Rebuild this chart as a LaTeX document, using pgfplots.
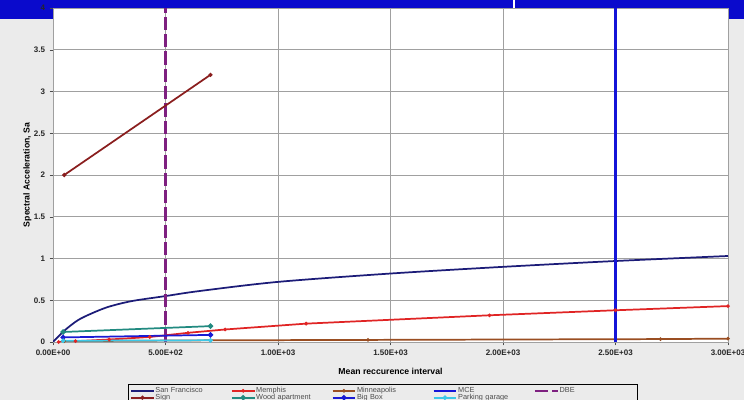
\documentclass[border=0pt]{standalone}
\usepackage{fontspec}
\setmainfont{Liberation Sans}
\usepackage{pgfplots}
\pgfplotsset{compat=1.18}
\definecolor{bgray}{HTML}{EBEBEB}
\definecolor{bandblue}{HTML}{0A0ACC}
\definecolor{sfblue}{HTML}{1C1C78}
\definecolor{memred}{HTML}{E02424}
\definecolor{minbrown}{HTML}{9A4E22}
\definecolor{mceblue}{HTML}{1414D8}
\definecolor{dbepurple}{HTML}{7E2080}
\definecolor{signred}{HTML}{8A1E1E}
\definecolor{woodteal}{HTML}{218A80}
\definecolor{boxblue}{HTML}{1A1AD4}
\definecolor{parkcyan}{HTML}{3CC8E8}
\definecolor{gridgray}{HTML}{A0A0A0}
\begin{document}
\begin{tikzpicture}
\clip (0pt,0pt) rectangle (558pt,300pt);
\fill[bgray] (0pt,0pt) rectangle (558pt,300pt);
\fill[bandblue] (0pt,285.75pt) rectangle (558pt,300pt);
\fill[white] (384.5pt,294pt) rectangle (386pt,300pt);
\begin{axis}[
  at={(39.75pt,43.5pt)}, anchor=south west,
  scale only axis,
  width=506.25pt, height=250.5pt,
  xmin=0, xmax=3000, ymin=0, ymax=4,
  axis background/.style={fill=white},
  axis line style={gridgray},
  grid=major,
  grid style={gridgray, line width=0.5pt},
  tick pos=left, tick align=outside,
  major tick length=2.5pt,
  tick style={black!70},
  xtick={0,500,1000,1500,2000,2500,3000},
  xticklabels={0.00E+00,5.00E+02,1.00E+03,1.50E+03,2.00E+03,2.50E+03,3.00E+03},
  ytick={0,0.5,1,1.5,2,2.5,3,3.5,4},
  yticklabels={0,0.5,1,1.5,2,2.5,3,3.5,4},
  ticklabel style={font=\bfseries\fontsize{6}{7}\selectfont, text=black!85},
  xlabel={Mean reccurence interval},
  ylabel={Spectral Acceleration, Sa},
  label style={font=\bfseries\fontsize{6.5}{7.5}\selectfont},
  xlabel style={yshift=-2.5pt},
  ylabel style={yshift=-5pt},
  legend columns=5,
  legend cell align=left,
  legend style={at={(0.111,-0.126)}, anchor=north west, draw=black, fill=bgray,
    font=\fontsize{5.5}{6}\selectfont, text=black!70,
    inner sep=1.5pt, row sep=-1.5pt,
    nodes={text width=56pt, inner sep=0.6pt, align=left}},
  every axis plot/.append style={line width=1.3pt},
]
\addplot[sfblue, mark=none, smooth] coordinates {
  (0,0) (50,0.135) (110,0.26) (170,0.34) (245,0.42) (350,0.49)
  (500,0.55) (650,0.61) (1000,0.72) (1500,0.82) (2000,0.90) (2500,0.97) (3000,1.03)};
\addlegendentry{San Francisco}
\addplot[memred, mark=*, mark size=0.6pt] coordinates {
  (25,0) (100,0.01) (250,0.03) (430,0.06) (600,0.11) (765,0.15) (1125,0.22)
  (1940,0.32) (2500,0.38) (3000,0.43)};
\addlegendentry{Memphis}
\addplot[minbrown, mark=*, mark size=0.6pt] coordinates {
  (50,0.01) (700,0.02) (1400,0.025) (2700,0.035) (3000,0.04)};
\addlegendentry{Minneapolis}
\addplot[mceblue, mark=none, line width=1.6pt] coordinates {(2500,0) (2500,4)};
\addlegendentry{MCE}
\addplot[dbepurple, mark=none, line width=1.8pt, dash pattern=on 10pt off 3pt] coordinates {(500,0) (500,4)};
\addlegendentry{DBE}
\addplot[signred, mark=*, mark size=0.8pt] coordinates {(50,2.0) (700,3.2)};
\addlegendentry{Sign}
\addplot[woodteal, mark=*, mark size=1.3pt] coordinates {(45,0.12) (700,0.19)};
\addlegendentry{Wood apartment}
\addplot[boxblue, mark=*, mark size=1.3pt] coordinates {(45,0.055) (700,0.085)};
\addlegendentry{Big Box}
\addplot[parkcyan, mark=*, mark size=1pt] coordinates {(45,0.015) (700,0.02)};
\addlegendentry{Parking garage}
\end{axis}
\end{tikzpicture}
\end{document}
